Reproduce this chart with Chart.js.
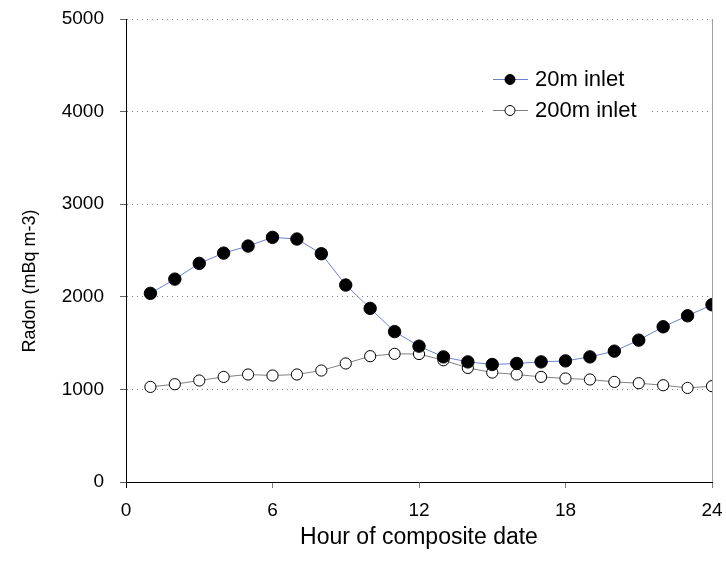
<!DOCTYPE html>
<html>
<head>
<meta charset="utf-8">
<script src="https://cdn.jsdelivr.net/npm/chart.js@4.4.1/dist/chart.umd.min.js"></script>
<style>
html,body{margin:0;padding:0;background:#fff;}
#wrap{width:726px;height:561px;}
</style>
</head>
<body>
<div id="wrap"><canvas id="c" width="726" height="561"></canvas></div>
<script>
const hours = [1,2,3,4,5,6,7,8,9,10,11,12,13,14,15,16,17,18,19,20,21,22,23,24];
const inlet20 = [2037,2191,2361,2472,2548,2642,2624,2465,2127,1875,1624,1467,1351,1297,1269,1280,1297,1308,1351,1413,1532,1676,1795,1914];
const inlet200 = [1027,1056,1096,1135,1161,1150,1161,1204,1280,1359,1384,1382,1315,1232,1182,1161,1135,1118,1107,1081,1067,1045,1016,1035];
const seriesNames = ["20m inlet", "200m inlet"];
const xTitle = "Hour of composite date";
const yTitle = "Radon (mBq m-3)";
const xTicks = [0, 6, 12, 18, 24];
const yTicks = [0, 1000, 2000, 3000, 4000, 5000];

const FONT = "'Liberation Sans', Arial, sans-serif";
const AREA = {left: 126, top: 19, right: 712, bottom: 482};

const toPts = (arr) => hours.map((h, i) => ({x: h, y: arr[i]}));

const decor = {
  id: 'decor',
  beforeDatasetsDraw(chart) {
    const {ctx, chartArea: a} = chart;
    ctx.save();
    ctx.strokeStyle = '#a0a0a0';
    ctx.lineWidth = 1;
    ctx.beginPath();
    ctx.moveTo(a.right + 0.5, a.top);
    ctx.lineTo(a.right + 0.5, a.bottom);
    ctx.stroke();
    ctx.restore();
  },
  afterDatasetsDraw(chart) {
    const {ctx, chartArea: a} = chart;
    ctx.save();
    // legend
    ctx.fillStyle = '#fff';
    ctx.fillRect(484, 64, 164, 62);
    const rows = [79, 110];
    chart.data.datasets.forEach((ds, i) => {
      const y = rows[i];
      ctx.strokeStyle = ds.borderColor;
      ctx.lineWidth = 1;
      ctx.beginPath();
      ctx.moveTo(493, y + 0.5);
      ctx.lineTo(528, y + 0.5);
      ctx.stroke();
      ctx.beginPath();
      ctx.arc(510, y + 0.5, 5, 0, Math.PI * 2);
      ctx.fillStyle = ds.pointBackgroundColor;
      ctx.fill();
      ctx.strokeStyle = '#000';
      ctx.stroke();
      ctx.fillStyle = '#000';
      ctx.font = '22px ' + FONT;
      ctx.textBaseline = 'middle';
      ctx.textAlign = 'left';
      ctx.fillText(ds.label, 535, y + 1);
    });
    // axis titles
    ctx.fillStyle = '#000';
    ctx.font = '23px ' + FONT;
    ctx.textAlign = 'center';
    ctx.textBaseline = 'alphabetic';
    ctx.fillText(xTitle, (a.left + a.right) / 2, 544);
    ctx.save();
    ctx.translate(30, 281);
    ctx.rotate(-Math.PI / 2);
    ctx.font = '18px ' + FONT;
    ctx.textBaseline = 'middle';
    ctx.fillText(yTitle, 0, 0);
    ctx.restore();
    ctx.restore();
  }
};

const padding = {left: AREA.left - 126, right: 726 - AREA.right, top: AREA.top, bottom: 561 - AREA.bottom - 79};

const chart = new Chart(document.getElementById('c'), {
  type: 'line',
  data: {
    datasets: [
      {
        label: seriesNames[0],
        data: toPts(inlet20),
        borderColor: '#6f7fd0',
        borderWidth: 1,
        pointBackgroundColor: '#000',
        pointBorderColor: '#000',
        pointBorderWidth: 1,
        pointRadius: 6.2,
        tension: 0
      },
      {
        label: seriesNames[1],
        data: toPts(inlet200),
        borderColor: '#808080',
        borderWidth: 1,
        pointBackgroundColor: '#fff',
        pointBorderColor: '#000',
        pointBorderWidth: 1,
        pointRadius: 5.6,
        tension: 0
      }
    ]
  },
  options: {
    responsive: false,
    animation: false,
    devicePixelRatio: 1,
    layout: {padding: padding},
    plugins: {legend: {display: false}, tooltip: {enabled: false}, title: {display: false}},
    scales: {
      x: {
        type: 'linear',
        min: xTicks[0], max: xTicks[xTicks.length - 1],
        afterBuildTicks: (s) => { s.ticks = xTicks.map(v => ({value: v})); },
        afterFit: (s) => { s.height = 79; s.paddingLeft = 0; s.paddingRight = 0; },
        ticks: {color: '#000', font: {family: FONT, size: 19}, padding: 11, maxRotation: 0},
        grid: {drawOnChartArea: false, drawTicks: true, tickLength: 6, tickColor: (c) => c.index === 0 ? '#000' : '#808080'},
        border: {display: true, color: '#000', width: 1}
      },
      y: {
        min: yTicks[0], max: yTicks[yTicks.length - 1],
        afterBuildTicks: (s) => { s.ticks = yTicks.map(v => ({value: v})); },
        afterFit: (s) => { s.width = 126; s.paddingTop = 0; s.paddingBottom = 0; },
        ticks: {color: '#000', font: {family: FONT, size: 19}, padding: 16, callback: (v) => String(v)},
        grid: {color: '#808080', lineWidth: 1, drawTicks: true, tickLength: 6, tickColor: '#606060'},
        border: {display: true, color: '#000', width: 1, dash: [1, 4]}
      }
    }
  },
  plugins: [decor]
});
</script>
</body>
</html>
